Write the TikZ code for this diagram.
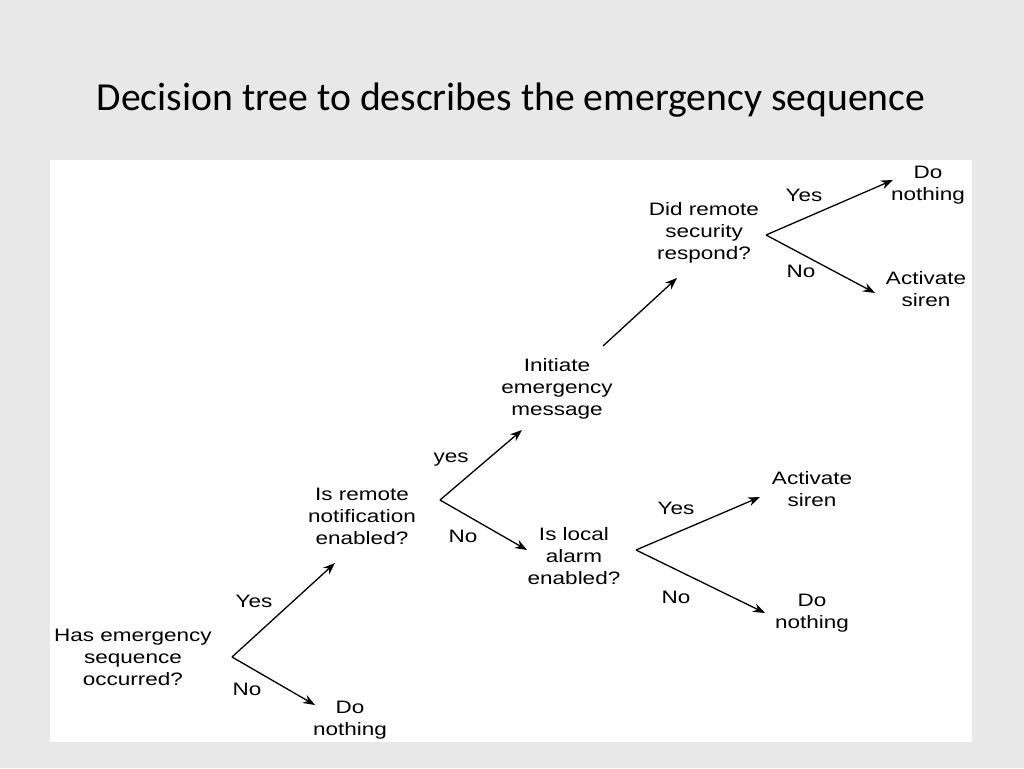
\documentclass[tikz,border=0pt]{standalone}
\usepackage{fontspec}
\setmainfont{Carlito}
\newfontfamily\figfont{Liberation Sans}
\usetikzlibrary{arrows.meta}
\begin{document}
\begin{tikzpicture}[x=1pt,y=-1pt,
  lbl/.style={font=\figfont\fontsize{18}{22}\selectfont, align=center, inner sep=1pt, xscale=1.25, transform shape},
  arr/.style={line width=1.3pt,-{Stealth[length=12pt,width=9pt]}}]
\useasboundingbox (0,0) rectangle (1024,768);
\fill[gray!18] (0,0) rectangle (1024,768);
\node (title) at (511,100) {\fontsize{39.7}{46}\selectfont Decision tree to describes the emergency sequence};
\fill[white] (50,160) rectangle (972,742);
\node[lbl] (A) at (133,657) {Has emergency\\sequence\\occurred?};
\node[lbl] (B) at (362,516) {Is remote\\notification\\enabled?};
\node[lbl] (C) at (350,720) {Do\\nothing};
\node[lbl] (D) at (557,389) {Initiate\\emergency\\message};
\node[lbl] (E) at (574,556) {Is local\\alarm\\enabled?};
\node[lbl] (F) at (704,233) {Did remote\\security\\respond?};
\node[lbl] (G) at (928,185) {Do\\nothing};
\node[lbl] (H) at (926,289) {Activate\\siren};
\node[lbl] (I) at (812,489) {Activate\\siren};
\node[lbl] (J) at (812,613) {Do\\nothing};
\coordinate (a0) at (232,657); \coordinate (a1) at (335,563); \coordinate (a2) at (315,705);
\coordinate (b0) at (440,500); \coordinate (b1) at (522,430); \coordinate (b2) at (527,550);
\coordinate (d0) at (603,346); \coordinate (d1) at (677,278);
\coordinate (f0) at (766,235); \coordinate (f1) at (893,180); \coordinate (f2) at (875,293);
\coordinate (e0) at (636,550); \coordinate (e1) at (760,497); \coordinate (e2) at (765,613);
\draw[arr] (a0) -- (a1); \draw[arr] (a0) -- (a2);
\draw[arr] (b0) -- (b1); \draw[arr] (b0) -- (b2);
\draw[arr] (d0) -- (d1);
\draw[arr] (f0) -- (f1); \draw[arr] (f0) -- (f2);
\draw[arr] (e0) -- (e1); \draw[arr] (e0) -- (e2);
\node[lbl] (ya) at (254,601) {Yes}; \node[lbl] (na) at (247,689) {No};
\node[lbl] (yb) at (451,460) {yes}; \node[lbl] (nb) at (463,536) {No};
\node[lbl] (yf) at (804,195) {Yes}; \node[lbl] (nf) at (801,271) {No};
\node[lbl] (ye) at (676,508) {Yes}; \node[lbl] (ne) at (676,597) {No};
\end{tikzpicture}
\end{document}
